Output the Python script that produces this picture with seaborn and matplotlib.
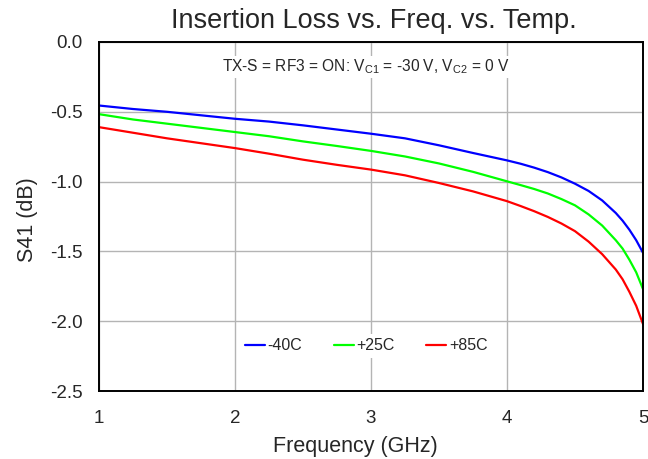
import pandas as pd
import matplotlib.pyplot as plt
import seaborn as sns

# Frequency points (GHz) and S41 per temperature (dB)
freq = [1.0, 1.25, 1.5, 1.75, 2.0, 2.25, 2.5, 2.75, 3.0, 3.25, 3.5, 3.75,
        4.0, 4.1, 4.2, 4.3, 4.4, 4.5, 4.6, 4.7, 4.8, 4.85, 4.9, 4.95, 5.0]
s41_m40 = [-0.455, -0.48, -0.50, -0.525, -0.55, -0.57, -0.597, -0.627, -0.657,
           -0.69, -0.74, -0.795, -0.848, -0.872, -0.90, -0.932, -0.97, -1.015,
           -1.067, -1.135, -1.225, -1.28, -1.345, -1.42, -1.51]
s41_p25 = [-0.517, -0.555, -0.585, -0.615, -0.645, -0.675, -0.712, -0.745, -0.78,
           -0.82, -0.87, -0.93, -0.998, -1.025, -1.053, -1.085, -1.125, -1.17,
           -1.235, -1.315, -1.42, -1.48, -1.56, -1.65, -1.77]
s41_p85 = [-0.61, -0.65, -0.69, -0.725, -0.76, -0.80, -0.843, -0.88, -0.914,
           -0.955, -1.01, -1.07, -1.14, -1.175, -1.212, -1.253, -1.30, -1.355,
           -1.43, -1.52, -1.63, -1.70, -1.79, -1.89, -2.02]
temps = ['-40C', '+25C', '+85C']
colors = ['#0000ff', '#00ff00', '#ff0000']

df = pd.DataFrame({
    'Frequency': freq * 3,
    'S41': s41_m40 + s41_p25 + s41_p85,
    'Temp': [t for t in temps for _ in freq],
})

sns.set_style('white')
plt.rcParams['font.family'] = ['Liberation Sans', 'DejaVu Sans']

fig = plt.figure(figsize=(6.48, 4.59), dpi=100)
ax = fig.add_axes([0.1528, 0.1481, 0.8395, 0.7604])

sns.lineplot(data=df, x='Frequency', y='S41', hue='Temp', hue_order=temps,
             palette=colors, linewidth=1.6, ax=ax)

ax.set_xlim(1, 5)
ax.set_ylim(-2.5, 0)
ax.set_xticks([1, 2, 3, 4, 5])
ax.set_yticks([0, -0.5, -1.0, -1.5, -2.0, -2.5])
ax.set_yticklabels(['0.0', '-0.5', '-1.0', '-1.5', '-2.0', '-2.5'])
ax.tick_params(labelsize=13.5, length=0)
ax.tick_params(axis='x', pad=14)
ax.tick_params(axis='y', pad=12)
ax.grid(True, color='#b4b4b4', linewidth=1)
for s in ax.spines.values():
    s.set_color('black')
    s.set_linewidth(1.4)

ax.set_xlabel('Frequency (GHz)', fontsize=15.5)
ax.xaxis.set_label_coords(0.472, -0.13)
ax.set_ylabel('S41 (dB)', fontsize=15.5)
ax.yaxis.set_label_coords(-0.112, 0.491)
ax.set_title('Insertion Loss vs. Freq. vs. Temp.', fontsize=19.5, pad=10, x=0.506)

ax.text(0.491, 0.928, 'TX-S = RF3 = ON: V$_{\\mathregular{C1}}$ = -30 V, V$_{\\mathregular{C2}}$ = 0 V',
        transform=ax.transAxes, ha='center', va='center', fontsize=11.2,
        bbox=dict(facecolor='white', edgecolor='none', pad=1))

leg = ax.legend(loc='center', bbox_to_anchor=(0.491, 0.129), ncol=3, frameon=True,
                fontsize=11.5, handlelength=1.25, handletextpad=0.15, columnspacing=2.0,
                borderpad=0.3, fancybox=False)
leg.get_frame().set_edgecolor('none')
leg.get_frame().set_facecolor('white')
leg.get_frame().set_alpha(1)

fig.savefig('out.png', dpi=100)
